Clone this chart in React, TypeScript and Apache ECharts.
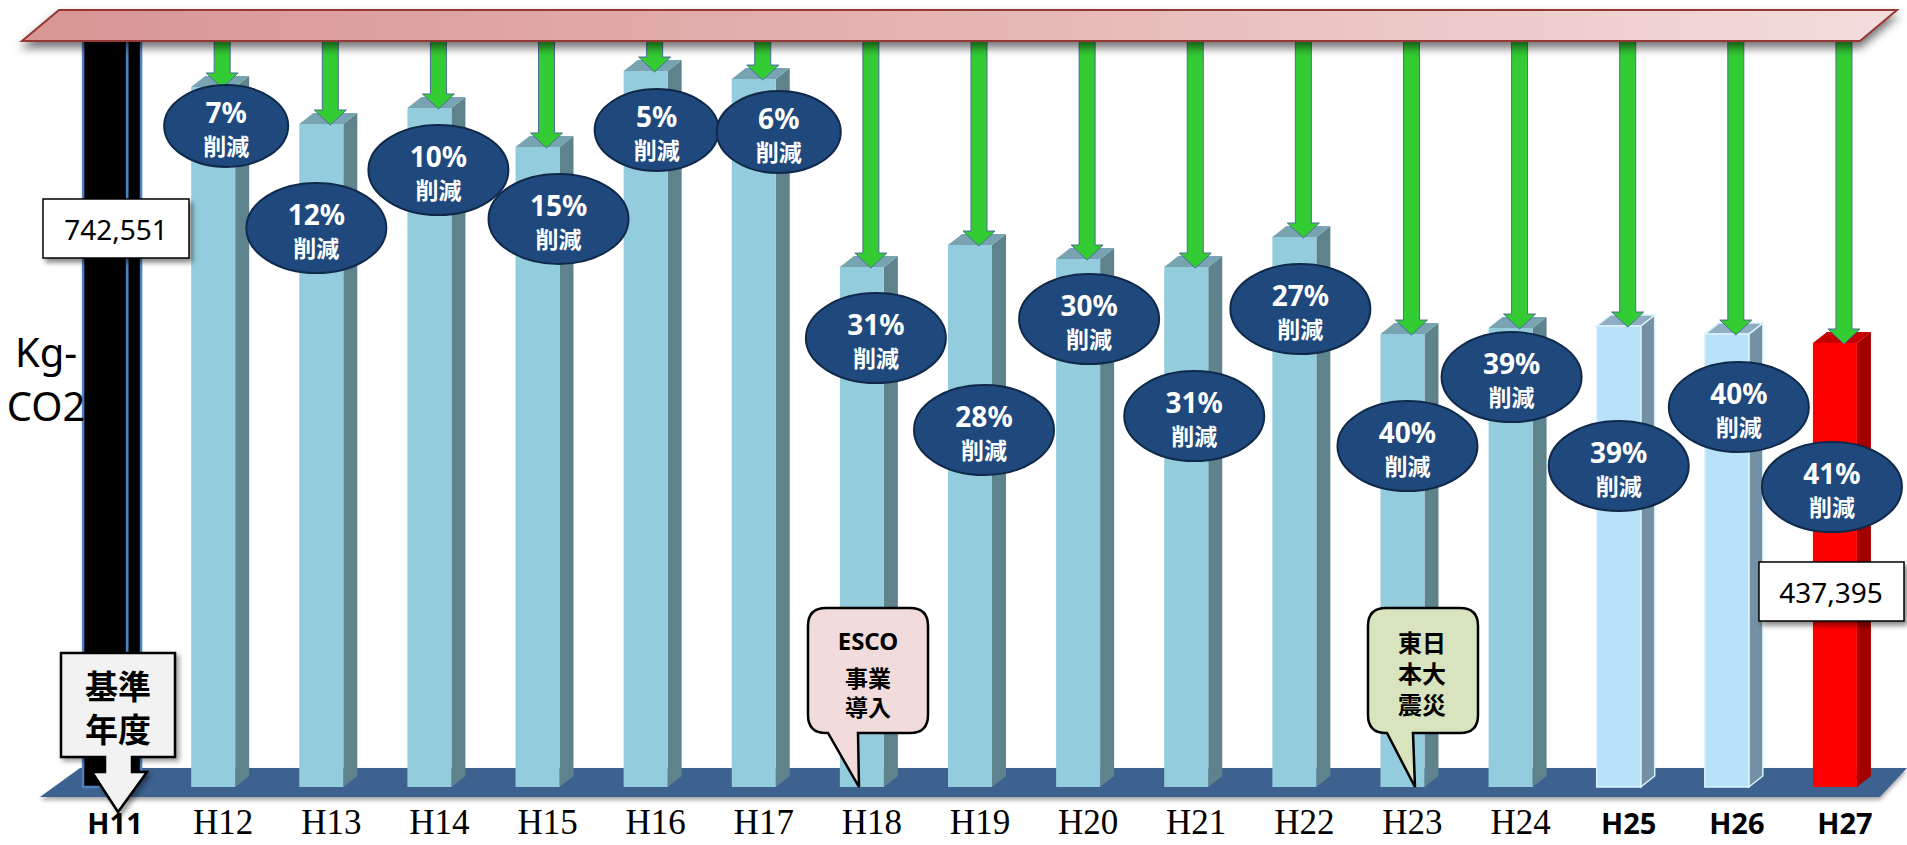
import React, { useEffect, useRef } from 'react';
import * as echarts from 'echarts';

// ---------- data ----------
const categories = ['H11', 'H12', 'H13', 'H14', 'H15', 'H16', 'H17', 'H18', 'H19', 'H20', 'H21', 'H22', 'H23', 'H24', 'H25', 'H26', 'H27'];
const emissions = [742551, 689600, 653100, 668900, 630500, 705300, 697400, 512200, 533900, 520100, 512200, 541800, 446200, 452100, 454100, 446200, 437395];
const reductions = [null, 7, 12, 10, 15, 5, 6, 31, 28, 30, 31, 27, 40, 39, 39, 40, 41];
const reductionWord = '削減';
const yAxisTitle = ['Kg-', 'CO2'];
const baseYearCallout = ['基準', '年度'];
const escoCallout = ['ESCO', '事業', '導入'];
const quakeCallout = ['東日', '本大', '震災'];

// ---------- annotation layout (offset of each ellipse from its bar's top) ----------
const ellipseOffsets: (number[] | null)[] = [null, [13, 39], [-5, 104], [9, 62], [21, 72], [11, 59], [25, 53], [14, 71], [14, 185], [11, 60], [8, 149], [6, 72], [5, 112], [1, 49], [0, 140], [12, 73], [-3, 144]];

// ---------- styles ----------
const BAR_STYLES: Record<string, any> = {
  normal: { front: '#93CDDD', side: '#5F838C', top: '#77A4B0', stroke: null, lw: 0 },
  base: { front: '#000000', side: '#000000', top: '#000000', stroke: '#4F81BD', lw: 2.5 },
  recent: { front: '#B7E2FA', side: '#7391A4', top: '#8EAFC2', stroke: '#DCF1FD', lw: 1.5 },
  latest: { front: '#FF0000', side: '#A30000', top: '#C40000', stroke: null, lw: 0 },
};
function styleKey(cat: string) {
  if (cat === 'H11') return 'base';
  if (cat === 'H27') return 'latest';
  if (cat === 'H25' || cat === 'H26') return 'recent';
  return 'normal';
}

const ESCO_PATH = 'M826 608 L910 608 Q928 608 928 626 L928 715 Q928 733 910 733 L858 733 L859 787 L828 733 L826 733 Q808 733 808 715 L808 626 Q808 608 826 608 Z';
const QUAKE_PATH = 'M1386 608 L1460 608 Q1478 608 1478 626 L1478 715 Q1478 733 1460 733 L1413 733 L1415 787 L1387 733 L1386 733 Q1368 733 1368 715 L1368 626 Q1368 608 1386 608 Z';
echarts.graphic.registerShape('escoCallout', echarts.graphic.extendPath(ESCO_PATH, {}));
echarts.graphic.registerShape('quakeCallout', echarts.graphic.extendPath(QUAKE_PATH, {}));

const BAR_W = 44;
const DEPTH_X = 14;
const DEPTH_Y = 11;
const CJK = '"Noto Sans CJK JP", "Noto Sans", sans-serif';

function buildOption() {
  const barData = emissions.map((v, i) => [i, v]);
  const annData = emissions.map((v, i) => [i, v]).slice(1);

  return {
    animation: false,
    backgroundColor: '#ffffff',
    grid: { left: 51, right: 18, top: 15.5, bottom: 58 },
    xAxis: {
      type: 'category',
      data: categories,
      axisLine: { show: false },
      axisTick: { show: false },
      splitLine: { show: false },
      axisLabel: {
        interval: 0,
        margin: 21,
        padding: [0, 0, 0, 20],
        formatter: (v: string) => (styleKey(v) === 'normal' ? `{s|${v}}` : `{b|${v}}`),
        rich: {
          s: { fontFamily: '"Liberation Serif", serif', fontSize: 35, lineHeight: 28, color: '#000000' },
          b: { fontFamily: '"Noto Sans", sans-serif', fontWeight: 'bold', fontSize: 29, lineHeight: 28, color: '#000000' },
        },
      },
    },
    yAxis: { type: 'value', min: 0, max: 760000, show: false },
    series: [
      {
        type: 'custom',
        name: 'bars',
        z: 2,
        data: barData,
        encode: { x: 0, y: 1 },
        renderItem: (params: any, api: any) => {
          const i = api.value(0);
          const v = api.value(1);
          const t = api.coord([i, v]);
          const b = api.coord([i, 0]);
          const L = t[0] - BAR_W / 2;
          const R = t[0] + BAR_W / 2;
          const T = t[1];
          const B = b[1];
          const s = BAR_STYLES[styleKey(categories[i])];
          const st = (fill: string) => (s.stroke ? { fill, stroke: s.stroke, lineWidth: s.lw } : { fill });
          return {
            type: 'group',
            children: [
              { type: 'polygon', shape: { points: [[R, T], [R + DEPTH_X, T - DEPTH_Y], [R + DEPTH_X, B - DEPTH_Y], [R, B]] }, style: st(s.side) },
              { type: 'polygon', shape: { points: [[L, T], [R, T], [R + DEPTH_X, T - DEPTH_Y], [L + DEPTH_X, T - DEPTH_Y]] }, style: st(s.top) },
              { type: 'rect', shape: { x: L, y: T, width: BAR_W, height: B - T }, style: st(s.front) },
            ],
          };
        },
      },
      {
        type: 'custom',
        name: 'arrows',
        z: 3,
        data: annData,
        encode: { x: 0, y: 1 },
        renderItem: (params: any, api: any) => {
          const i = api.value(0);
          const v = api.value(1);
          const t = api.coord([i, v]);
          const cx = t[0] + 9;
          const tip = t[1] + 1;
          const start = 36;
          const hh = 15;
          const sw = 8;
          const hw = 16;
          return {
            type: 'polygon',
            shape: {
              points: [[cx - sw, start], [cx + sw, start], [cx + sw, tip - hh], [cx + hw, tip - hh], [cx, tip], [cx - hw, tip - hh], [cx - sw, tip - hh]],
            },
            style: { fill: '#33CC33', stroke: '#4A6C9B', lineWidth: 1 },
          };
        },
      },
      {
        type: 'custom',
        name: 'reductions',
        z: 5,
        data: annData,
        encode: { x: 0, y: 1 },
        renderItem: (params: any, api: any) => {
          const i = api.value(0);
          const v = api.value(1);
          const t = api.coord([i, v]);
          const off = ellipseOffsets[i] as number[];
          const cx = t[0] + off[0];
          const cy = t[1] + off[1];
          const small = (reductions[i] as number) < 10;
          const rx = small ? 62 : 70;
          const ry = small ? 41 : 45;
          return {
            type: 'group',
            children: [
              { type: 'ellipse', shape: { cx, cy, rx, ry }, style: { fill: '#1F497D', stroke: '#10294A', lineWidth: 2 } },
              {
                type: 'text',
                style: {
                  text: `${reductions[i]}%`, x: cx, y: cy - 14, align: 'center', verticalAlign: 'middle',
                  fill: '#ffffff', fontFamily: '"Noto Sans", sans-serif', fontWeight: 'bold', fontSize: 28,
                },
              },
              {
                type: 'text',
                style: {
                  text: reductionWord, x: cx, y: cy + 19, align: 'center', verticalAlign: 'middle',
                  fill: '#ffffff', fontFamily: CJK, fontWeight: 'bold', fontSize: 23,
                },
              },
            ],
          };
        },
      },
    ],
    graphic: [
      // floor
      {
        type: 'polygon', z: 1,
        shape: { points: [[80, 768], [1907, 768], [1880, 797], [40, 797]] },
        style: { fill: '#3D6290', shadowBlur: 4, shadowOffsetY: 3, shadowColor: 'rgba(0,0,0,0.35)' },
      },
      // top band
      {
        type: 'polygon', z: 4,
        shape: { points: [[59, 10], [1897, 10], [1860, 41], [22, 41]] },
        style: {
          fill: { type: 'linear', x: 0, y: 0, x2: 1, y2: 0, colorStops: [{ offset: 0, color: '#D89594' }, { offset: 0.5, color: '#E5B5B4' }, { offset: 1, color: '#F3DDDC' }] },
          stroke: '#953735', lineWidth: 2,
          shadowBlur: 10, shadowOffsetY: 6, shadowColor: 'rgba(0,0,0,0.55)',
        },
      },
      // y axis title
      {
        type: 'text', z: 6,
        style: { text: yAxisTitle.join('\n'), x: 46, y: 378, align: 'center', verticalAlign: 'middle', lineHeight: 54, fontFamily: '"Noto Sans", sans-serif', fontSize: 40, fill: '#000000' },
      },
      // value box base year
      {
        type: 'rect', z: 6,
        shape: { x: 43, y: 199, width: 146, height: 59 },
        style: { fill: '#ffffff', stroke: '#000000', lineWidth: 1.5, shadowBlur: 5, shadowOffsetX: 3, shadowOffsetY: 4, shadowColor: 'rgba(0,0,0,0.45)' },
      },
      {
        type: 'text', z: 7,
        style: { text: emissions[0].toLocaleString('en-US'), x: 116, y: 229, align: 'center', verticalAlign: 'middle', fontFamily: '"Noto Sans", sans-serif', fontSize: 28, fill: '#000000' },
      },
      // value box latest
      {
        type: 'rect', z: 6,
        shape: { x: 1759, y: 562, width: 145, height: 59 },
        style: { fill: '#ffffff', stroke: '#000000', lineWidth: 1.5, shadowBlur: 5, shadowOffsetX: 3, shadowOffsetY: 4, shadowColor: 'rgba(0,0,0,0.45)' },
      },
      {
        type: 'text', z: 7,
        style: { text: emissions[emissions.length - 1].toLocaleString('en-US'), x: 1831, y: 592, align: 'center', verticalAlign: 'middle', fontFamily: '"Noto Sans", sans-serif', fontSize: 28, fill: '#000000' },
      },
      // base year callout
      {
        type: 'polygon', z: 6,
        shape: { points: [[61, 653], [175, 653], [175, 757], [132, 757], [132, 772], [147, 772], [118, 812], [92, 772], [105, 772], [105, 757], [61, 757]] },
        style: { fill: '#F2F2F2', stroke: '#000000', lineWidth: 2.5, shadowBlur: 5, shadowOffsetX: 3, shadowOffsetY: 3, shadowColor: 'rgba(0,0,0,0.4)' },
      },
      {
        type: 'text', z: 7,
        style: { text: baseYearCallout.join('\n'), x: 118, y: 706, align: 'center', verticalAlign: 'middle', lineHeight: 43, fontFamily: CJK, fontWeight: 'bold', fontSize: 33, fill: '#000000' },
      },
      // ESCO callout
      {
        type: 'escoCallout', z: 6, x: 0, y: 0,
        style: { fill: '#F2DCDB', stroke: '#000000', lineWidth: 2.5 },
      },
      {
        type: 'text', z: 7,
        style: { text: escoCallout[0], x: 868, y: 640, align: 'center', verticalAlign: 'middle', fontFamily: '"Noto Sans", sans-serif', fontWeight: 'bold', fontSize: 24, lineHeight: 26, fill: '#000000' },
      },
      {
        type: 'text', z: 7,
        style: { text: escoCallout.slice(1).join('\n'), x: 868, y: 691, align: 'center', verticalAlign: 'middle', lineHeight: 29, fontFamily: CJK, fontWeight: 'bold', fontSize: 23, fill: '#000000' },
      },
      // earthquake callout
      {
        type: 'quakeCallout', z: 6, x: 0, y: 0,
        style: { fill: '#D7E4BD', stroke: '#000000', lineWidth: 2.5 },
      },
      {
        type: 'text', z: 7,
        style: { text: quakeCallout.join('\n'), x: 1422, y: 672, align: 'center', verticalAlign: 'middle', lineHeight: 31, fontFamily: CJK, fontWeight: 'bold', fontSize: 24, fill: '#000000' },
      },
    ],
  };
}

export default function App() {
  const ref = useRef<HTMLDivElement>(null);
  useEffect(() => {
    if (!ref.current) return;
    const chart = echarts.init(ref.current, undefined, { renderer: 'svg' });
    chart.setOption(buildOption() as any);
    return () => chart.dispose();
  }, []);
  return (
    <div
      ref={ref}
      style={{ position: 'fixed', left: 0, top: 0, width: 1907, height: 845, background: '#ffffff' }}
    />
  );
}
